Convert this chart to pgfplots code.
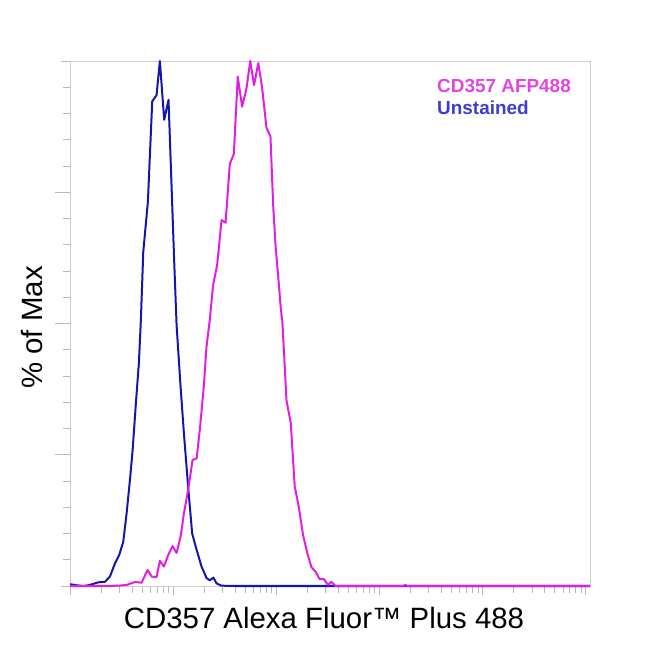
\documentclass[border=0pt]{standalone}
\usepackage{pgfplots}
\pgfplotsset{compat=1.18}
\usepackage{pgfplotstable}
\usepackage{fontspec}
\setmainfont{Liberation Sans}
\definecolor{unst}{RGB}{20,20,175}
\definecolor{stain}{RGB}{225,30,225}
\definecolor{unsttxt}{RGB}{60,60,210}
\definecolor{staintxt}{RGB}{225,70,225}
\definecolor{frame}{RGB}{205,205,205}

\pgfplotstableread{
d y
0 0.3
0.016 0.3
0.065 0.13
0.129 0
0.177 0.13
0.226 0.4
0.274 0.7
0.339 0.8
0.387 1.8
0.436 4.3
0.477 5.9
0.516 8.4
0.549 13.9
0.581 20.2
0.607 25.9
0.639 34.9
0.668 42.6
0.687 50.7
0.710 63.6
0.755 73.2
0.797 92.3
0.839 93.5
0.871 100
0.913 88.8
0.955 92.6
0.985 75.8
1.010 61.8
1.033 49.7
1.072 37.9
1.104 29.1
1.145 18.9
1.184 10.0
1.227 6.9
1.275 3.7
1.324 1.5
1.355 1.1
1.390 1.6
1.420 0.5
1.469 0.06
1.600 0
5.04 0
}\unstained

\pgfplotstableread{
d y
0 0
0.290 0
0.468 0.06
0.549 0.2
0.629 0.76
0.694 0.63
0.752 3.05
0.791 1.8
0.839 1.7
0.871 4.8
0.910 3.7
0.952 5.9
0.994 7.6
1.033 6.3
1.072 9.4
1.104 13.8
1.145 18.3
1.188 24.0
1.227 24.3
1.258 29.7
1.297 38.0
1.323 45.6
1.355 50.7
1.387 57.3
1.426 61.1
1.469 69.7
1.508 69.2
1.549 80.4
1.588 82.3
1.626 97.0
1.668 91.3
1.710 94.7
1.747 100
1.784 95.4
1.825 99.6
1.861 95.1
1.904 87.3
1.943 85.6
1.969 72.6
1.992 64.9
2.017 59.2
2.043 52.9
2.058 50.3
2.075 44.3
2.098 35.4
2.140 31.0
2.178 19.0
2.217 15.1
2.259 9.7
2.301 6.2
2.340 3.6
2.381 2.7
2.420 1.3
2.462 1.3
2.500 0.2
2.533 0.8
2.572 0
3.230 0
3.250 0.2
3.270 0
5.04 0
}\stained

\begin{document}
\begin{tikzpicture}
\useasboundingbox (-70bp,-64bp) rectangle (580bp,586bp);
\begin{axis}[
  at={(0,0)}, anchor=south west,
  scale only axis,
  width=520bp, height=525bp,
  xmin=0, xmax=5.04, ymin=0, ymax=100,
  axis line style={draw=frame, line width=0.8bp},
  tick style={draw=frame!90!black, line width=0.8bp},
  tick align=outside,
  xtick pos=bottom, ytick pos=left,
  xtick={0,1,2,3,4,5},
  minor xtick={0.301,0.477,0.602,0.699,0.778,0.845,0.903,0.954,
    1.301,1.477,1.602,1.699,1.778,1.845,1.903,1.954,
    2.301,2.477,2.602,2.699,2.778,2.845,2.903,2.954,
    3.301,3.477,3.602,3.699,3.778,3.845,3.903,3.954,
    4.301,4.477,4.602,4.699,4.778,4.845,4.903,4.954},
  ytick={0,100},
  minor ytick={5,10,15,20,30,35,40,45,55,60,65,70,80,85,90,95},
  extra y ticks={25,50,75},
  extra y tick labels={},
  extra y tick style={major tick length=15bp},
  major tick length=9bp,
  minor tick length=7bp,
  xticklabels={}, yticklabels={},
  clip=false,
]
\addplot[unst, line width=2bp, line join=round] table[x=d, y=y] {\unstained};
\addplot[stain, line width=2bp, line join=round] table[x=d, y=y] {\stained};
\end{axis}
\node[anchor=base, font=\fontsize{29.5}{34}\selectfont] at (254bp,-42bp) {CD357 Alexa Fluor™ Plus 488};
\node[anchor=base, rotate=90, font=\fontsize{29.5}{34}\selectfont] at (-28bp,258.5bp) {\% of Max};
\node[anchor=base west, font=\fontsize{19}{22}\selectfont\bfseries, text=staintxt, inner sep=0pt] at (367bp,493.7bp) {CD357 AFP488};
\node[anchor=base west, font=\fontsize{19}{22}\selectfont\bfseries, text=unsttxt, inner sep=0pt] at (367bp,471.7bp) {Unstained};
\end{tikzpicture}
\end{document}
